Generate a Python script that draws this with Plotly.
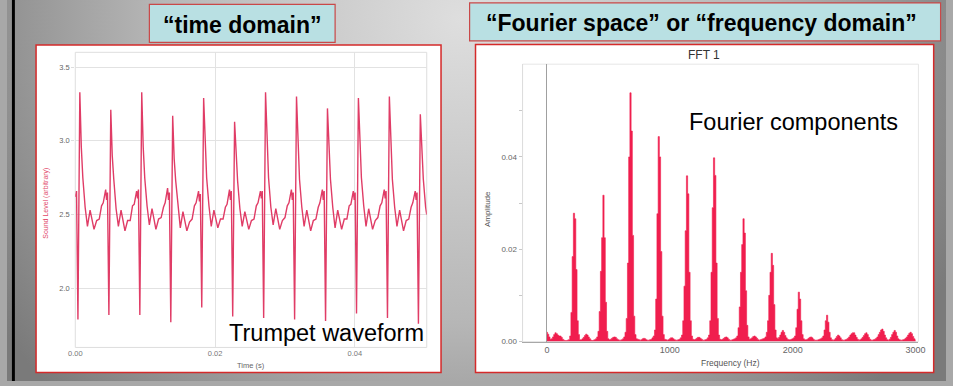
import base64
import plotly.graph_objects as go

# ---------------- data: trumpet waveform (time in ms, sound level arbitrary) ----------------
wave_time_ms = [
    0.00, 0.18,
    0.38, 0.65, 0.86, 1.08, 1.41, 1.74, 2.12, 2.68, 3.06, 3.43, 3.76, 4.00, 4.35, 4.48, 4.61,
    4.81, 5.08, 5.29, 5.51, 5.84, 6.17, 6.55, 7.11, 7.49, 7.86, 8.19, 8.43, 8.78, 8.91, 9.04,
    9.24, 9.51, 9.72, 9.94, 10.27, 10.60, 10.98, 11.54, 11.92, 12.29, 12.62, 12.86, 13.21, 13.34, 13.47,
    13.67, 13.94, 14.15, 14.37, 14.70, 15.03, 15.41, 15.97, 16.35, 16.72, 17.05, 17.29, 17.64, 17.77, 17.90,
    18.10, 18.37, 18.58, 18.80, 19.13, 19.46, 19.84, 20.40, 20.78, 21.15, 21.48, 21.72, 22.07, 22.20, 22.33,
    22.53, 22.80, 23.01, 23.23, 23.56, 23.89, 24.27, 24.83, 25.21, 25.58, 25.91, 26.15, 26.50, 26.63, 26.76,
    26.96, 27.23, 27.44, 27.66, 27.99, 28.32, 28.70, 29.26, 29.64, 30.01, 30.34, 30.58, 30.93, 31.06, 31.19,
    31.39, 31.66, 31.87, 32.09, 32.42, 32.75, 33.13, 33.69, 34.07, 34.44, 34.77, 35.01, 35.36, 35.49, 35.62,
    35.82, 36.09, 36.30, 36.52, 36.85, 37.18, 37.56, 38.12, 38.50, 38.87, 39.20, 39.44, 39.79, 39.92, 40.05,
    40.25, 40.52, 40.73, 40.95, 41.28, 41.61, 41.99, 42.55, 42.93, 43.30, 43.63, 43.87, 44.22, 44.35, 44.48,
    44.68, 44.95, 45.16, 45.38, 45.71, 46.04, 46.42, 46.98, 47.36, 47.73, 48.06, 48.30, 48.65, 48.78, 48.91,
    49.11, 49.38, 49.59, 49.81, 50.14, 50.30,
]
wave_level = [
    2.62, 2.66,
    1.79, 3.33, 2.96, 2.75, 2.55, 2.42, 2.53, 2.40, 2.46, 2.47, 2.56, 2.58, 2.67, 2.60, 2.65,
    1.82, 3.21, 2.90, 2.74, 2.54, 2.42, 2.53, 2.39, 2.46, 2.46, 2.56, 2.57, 2.66, 2.61, 2.67,
    1.82, 3.33, 2.96, 2.75, 2.56, 2.43, 2.54, 2.40, 2.47, 2.48, 2.55, 2.58, 2.68, 2.60, 2.65,
    1.77, 3.17, 2.88, 2.73, 2.55, 2.41, 2.52, 2.39, 2.45, 2.47, 2.56, 2.58, 2.66, 2.59, 2.64,
    1.87, 3.29, 2.94, 2.75, 2.56, 2.42, 2.53, 2.41, 2.47, 2.47, 2.55, 2.57, 2.67, 2.60, 2.66,
    1.81, 3.13, 2.87, 2.73, 2.54, 2.42, 2.52, 2.40, 2.46, 2.47, 2.56, 2.58, 2.66, 2.61, 2.66,
    1.80, 3.33, 2.96, 2.75, 2.55, 2.43, 2.54, 2.40, 2.46, 2.48, 2.56, 2.58, 2.67, 2.60, 2.65,
    1.79, 3.30, 2.95, 2.74, 2.55, 2.42, 2.53, 2.39, 2.46, 2.47, 2.55, 2.58, 2.67, 2.60, 2.66,
    1.78, 3.22, 2.91, 2.74, 2.55, 2.41, 2.53, 2.40, 2.47, 2.47, 2.56, 2.57, 2.66, 2.60, 2.65,
    1.83, 3.29, 2.94, 2.75, 2.56, 2.42, 2.54, 2.40, 2.46, 2.48, 2.56, 2.58, 2.67, 2.61, 2.66,
    1.80, 3.30, 2.95, 2.74, 2.55, 2.42, 2.53, 2.39, 2.46, 2.47, 2.55, 2.58, 2.66, 2.60, 2.65,
    1.76, 3.18, 2.90, 2.74, 2.55, 2.50,
]
assert len(wave_time_ms) == len(wave_level)

# ---------------- data: FFT amplitude, one value per 10 Hz bin from 0 to 3000 Hz ----------------
fft_bin_hz = 10
fft_amp = [
    0.0020, 0.0016, 0.0010, 0.0005, 0.0006, 0.0010, 0.0015, 0.0019, 0.0017, 0.0014,   # 0-90
    0.0012, 0.0012, 0.0009, 0.0005, 0.0003, 0.0002, 0.0002, 0.0003, 0.0004, 0.0012,   # 100-190
    0.0063, 0.0184, 0.0278, 0.0266, 0.0156, 0.0045, 0.0015, 0.0004, 0.0004, 0.0006,   # 200-290
    0.0009, 0.0013, 0.0016, 0.0014, 0.0010, 0.0006, 0.0003, 0.0002, 0.0003, 0.0004,   # 300-390
    0.0006, 0.0010, 0.0022, 0.0065, 0.0152, 0.0225, 0.0317, 0.0225, 0.0085, 0.0022,   # 400-490
    0.0006, 0.0004, 0.0005, 0.0007, 0.0009, 0.0010, 0.0009, 0.0006, 0.0004, 0.0003,   # 500-590
    0.0003, 0.0004, 0.0006, 0.0010, 0.0020, 0.0050, 0.0170, 0.0400, 0.0539, 0.0456,   # 600-690
    0.0230, 0.0055, 0.0015, 0.0006, 0.0005, 0.0004, 0.0003, 0.0004, 0.0006, 0.0007,   # 700-790
    0.0006, 0.0004, 0.0003, 0.0003, 0.0004, 0.0005, 0.0008, 0.0012, 0.0025, 0.0092,   # 800-890
    0.0277, 0.0444, 0.0400, 0.0195, 0.0055, 0.0015, 0.0005, 0.0004, 0.0003, 0.0004,   # 900-990
    0.0006, 0.0008, 0.0008, 0.0006, 0.0004, 0.0003, 0.0003, 0.0004, 0.0005, 0.0008,   # 1000-1090
    0.0014, 0.0045, 0.0120, 0.0240, 0.0359, 0.0320, 0.0150, 0.0045, 0.0012, 0.0005,   # 1100-1190
    0.0004, 0.0005, 0.0007, 0.0009, 0.0009, 0.0007, 0.0005, 0.0003, 0.0003, 0.0004,   # 1200-1290
    0.0005, 0.0008, 0.0014, 0.0045, 0.0150, 0.0290, 0.0398, 0.0360, 0.0170, 0.0050,   # 1300-1390
    0.0014, 0.0005, 0.0004, 0.0005, 0.0007, 0.0009, 0.0010, 0.0008, 0.0005, 0.0003,   # 1400-1490
    0.0003, 0.0004, 0.0005, 0.0006, 0.0008, 0.0012, 0.0030, 0.0075, 0.0150, 0.0210,   # 1500-1590
    0.0266, 0.0235, 0.0110, 0.0035, 0.0010, 0.0005, 0.0006, 0.0008, 0.0011, 0.0012,   # 1600-1690
    0.0010, 0.0007, 0.0004, 0.0003, 0.0004, 0.0005, 0.0006, 0.0007, 0.0010, 0.0020,   # 1700-1790
    0.0045, 0.0100, 0.0150, 0.0191, 0.0165, 0.0080, 0.0025, 0.0008, 0.0006, 0.0009,   # 1800-1890
    0.0014, 0.0020, 0.0024, 0.0020, 0.0013, 0.0008, 0.0005, 0.0004, 0.0004, 0.0005,   # 1900-1990
    0.0006, 0.0008, 0.0012, 0.0030, 0.0070, 0.0107, 0.0092, 0.0045, 0.0015, 0.0006,   # 2000-2090
    0.0004, 0.0004, 0.0005, 0.0007, 0.0009, 0.0010, 0.0008, 0.0005, 0.0003, 0.0003,   # 2100-2190
    0.0003, 0.0004, 0.0005, 0.0006, 0.0008, 0.0012, 0.0025, 0.0045, 0.0057, 0.0042,   # 2200-2290
    0.0020, 0.0008, 0.0004, 0.0003, 0.0004, 0.0007, 0.0011, 0.0014, 0.0012, 0.0008,   # 2300-2390
    0.0004, 0.0003, 0.0003, 0.0004, 0.0005, 0.0007, 0.0010, 0.0014, 0.0017, 0.0019,   # 2400-2490
    0.0019, 0.0014, 0.0009, 0.0005, 0.0003, 0.0004, 0.0006, 0.0009, 0.0013, 0.0017,   # 2500-2590
    0.0019, 0.0015, 0.0009, 0.0005, 0.0003, 0.0003, 0.0004, 0.0005, 0.0007, 0.0010,   # 2600-2690
    0.0015, 0.0020, 0.0025, 0.0027, 0.0022, 0.0014, 0.0008, 0.0004, 0.0003, 0.0005,   # 2700-2790
    0.0009, 0.0015, 0.0020, 0.0024, 0.0020, 0.0012, 0.0006, 0.0004, 0.0003, 0.0003,   # 2800-2890
    0.0004, 0.0005, 0.0007, 0.0010, 0.0014, 0.0018, 0.0020, 0.0017, 0.0011, 0.0006,   # 2900-2990
    0.0003,                                                                           # 3000
]
fft_freq = [i * fft_bin_hz for i in range(len(fft_amp))]

# tick labels
time_ticks = [0.0, 0.02, 0.04]
time_ticktext = ["0.00", "0.02", "0.04"]
level_ticks = [2.0, 2.5, 3.0, 3.5]
level_ticktext = ["2.0", "2.5", "3.0", "3.5"]
freq_ticks = [0, 1000, 2000, 3000]
amp_ticks = [0.0, 0.01, 0.02, 0.03, 0.04, 0.05]
amp_ticktext = ["0.00", "", "0.02", "", "0.04", ""]

# ---------------- figure ----------------
W, H = 953, 386
FONT = "Liberation Sans, Arial, sans-serif"


def px(x):
    return x / W


def py(y):
    return 1 - y / H


WAVE_RED = "#e03c66"
FFT_RED = "#f01e4e"

fig = go.Figure()
fig.add_trace(go.Scatter(
    x=[t / 1000.0 for t in wave_time_ms], y=wave_level, xaxis="x", yaxis="y",
    mode="lines", line=dict(color=WAVE_RED, width=1.4), hoverinfo="skip"))
fig.add_trace(go.Scatter(
    x=fft_freq, y=fft_amp, xaxis="x2", yaxis="y2", mode="lines",
    line=dict(color=FFT_RED, width=0.6, shape="hvh"),
    fill="tozeroy", fillcolor=FFT_RED, hoverinfo="skip"))

# background gradient (slide)
svg = (
    "<svg xmlns='http://www.w3.org/2000/svg' width='953' height='386' viewBox='0 0 953 386'>"
    "<defs><radialGradient id='g' gradientUnits='userSpaceOnUse' cx='460' cy='20' r='560'>"
    "<stop offset='0' stop-color='#dedede'/>"
    "<stop offset='0.55' stop-color='#b6b6b6'/>"
    "<stop offset='1' stop-color='#7a7a7a'/>"
    "</radialGradient></defs>"
    "<rect width='953' height='386' fill='url(#g)'/></svg>"
)
bg_src = "data:image/svg+xml;base64," + base64.b64encode(svg.encode()).decode()

shapes = [
    # black left bar
    dict(type="rect", xref="paper", yref="paper", x0=px(5), x1=px(8), y0=0, y1=1,
         fillcolor="black", line=dict(width=0), layer="below"),
    # left panel
    dict(type="rect", xref="paper", yref="paper", x0=px(29.5), x1=px(440.5),
         y0=py(377.5), y1=py(45.5), fillcolor="white",
         line=dict(color="#d42a2a", width=1.5), layer="below"),
    # right panel
    dict(type="rect", xref="paper", yref="paper", x0=px(475.5), x1=px(940.5),
         y0=py(377.5), y1=py(45), fillcolor="white",
         line=dict(color="#d42a2a", width=1.5), layer="below"),
    # left title box
    dict(type="rect", xref="paper", yref="paper", x0=px(144.5), x1=px(333),
         y0=py(43), y1=py(4.5), fillcolor="#b9e0e3",
         line=dict(color="#c94848", width=1.2), layer="below"),
    # right title box
    dict(type="rect", xref="paper", yref="paper", x0=px(469.5), x1=px(947.5),
         y0=py(41.5), y1=py(3), fillcolor="#b9e0e3",
         line=dict(color="#c94848", width=1.2), layer="below"),
    # plot frames
    dict(type="rect", xref="x domain", yref="y domain", x0=0, x1=1, y0=0, y1=1,
         line=dict(color="#dedede", width=1), layer="below"),
    dict(type="rect", xref="x2 domain", yref="y2 domain", x0=0, x1=1, y0=0, y1=1,
         line=dict(color="#e6e6e6", width=1), layer="below"),
]


def label(text, x, y, size, color="black", angle=0):
    return dict(text=text, x=px(x), y=py(y), xref="paper", yref="paper",
                xanchor="center", yanchor="middle", showarrow=False, textangle=angle,
                font=dict(family=FONT, size=size, color=color))


annotations = [
    label("<b>\u201ctime domain\u201d</b>", 238.5, 25, 23),
    label("<b>\u201cFourier space\u201d or \u201cfrequency domain\u201d</b>", 705, 23.5, 23),
    label("Trumpet waveform", 324.7, 337, 23.5),
    label("Fourier components", 798, 123.5, 23.5),
    label("FFT 1", 707, 56, 12, "#333333"),
    label("Time (s)", 247.5, 370, 7.5, "#666666"),
    label("Frequency (Hz)", 734, 368, 8.5, "#555555"),
    label("Sound Level (arbitrary)", 40, 206, 7, "#e2486a", -90),
    label("Amplitude", 487, 212, 8, "#555555", -90),
]

fig.update_layout(
    width=W, height=H, margin=dict(l=0, r=0, t=0, b=0), autosize=False,
    paper_bgcolor="#a8a8a8", plot_bgcolor="rgba(0,0,0,0)", showlegend=False,
    images=[dict(source=bg_src, xref="paper", yref="paper", x=0, y=1, sizex=1, sizey=1,
                 sizing="stretch", xanchor="left", yanchor="top", layer="below")],
    shapes=shapes, annotations=annotations,
    xaxis=dict(domain=[px(69.3), px(426)], range=[0, 0.0503], anchor="y",
               tickvals=time_ticks, ticktext=time_ticktext,
               showgrid=True, gridcolor="#e2e2e2", gridwidth=1, zeroline=False, showline=False,
               ticks="", tickfont=dict(family=FONT, size=7.5, color="#777777")),
    yaxis=dict(domain=[py(352), py(53)], range=[1.6, 3.6], anchor="x",
               tickvals=level_ticks, ticktext=level_ticktext,
               showgrid=True, gridcolor="#e2e2e2", gridwidth=1, zeroline=False, showline=False,
               ticks="outside", ticklen=3, tickcolor="#dddddd",
               tickfont=dict(family=FONT, size=7.5, color="#666666")),
    xaxis2=dict(domain=[px(523.3), px(925)], range=[-198, 3023], anchor="y2",
                tickvals=freq_ticks, showgrid=False,
                zeroline=True, zerolinecolor="#a0a0a0", zerolinewidth=1,
                showline=True, linecolor="#a8a8a8", linewidth=1, ticks="",
                tickfont=dict(family=FONT, size=9, color="#666666")),
    yaxis2=dict(domain=[py(346), py(65)], range=[0, 0.0601], anchor="x2",
                tickvals=amp_ticks, ticktext=amp_ticktext, showgrid=False, zeroline=False,
                showline=True, linecolor="#dddddd", linewidth=1,
                ticks="outside", ticklen=3, tickcolor="#c8c8c8",
                tickfont=dict(family=FONT, size=8, color="#666666")),
)

page_fix = (
    "var s=document.createElement('style');"
    "s.innerHTML='html,body{margin:0;padding:0;overflow:hidden;background:#9a9a9a;}';"
    "document.head.appendChild(s);"
)

fig.write_html(
    "out.html",
    config={"responsive": False, "displayModeBar": False},
    post_script=page_fix,
)
